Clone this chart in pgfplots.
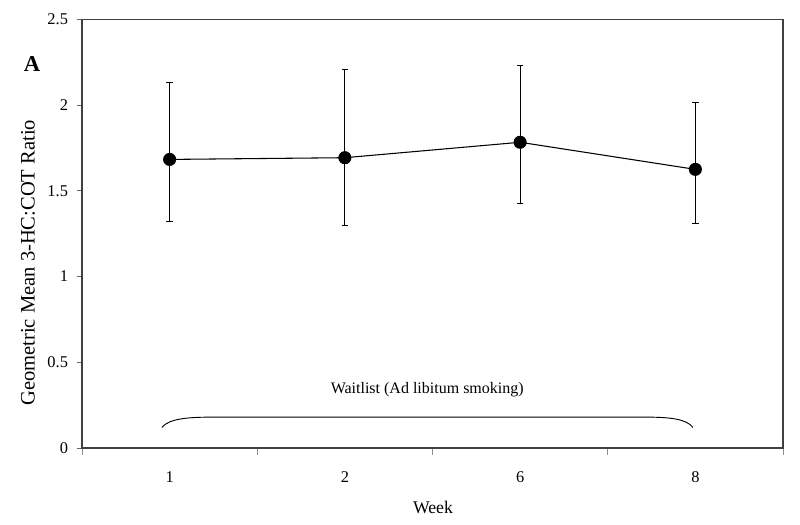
\documentclass[border=0pt]{standalone}
\usepackage{pgfplots}
\pgfplotsset{compat=1.18}
\usepackage{fontspec}
\setmainfont{Liberation Serif}
\begin{document}
\begin{tikzpicture}[x=1pt,y=1pt]
\path[use as bounding box] (-61.5pt,-57.75pt) rectangle (538.5pt,336pt);
\begin{axis}[
  at={(0,0)}, anchor=south west,
  scale only axis,
  width=525.75pt, height=321.5pt,
  xmin=-0.5, xmax=3.5, ymin=0, ymax=2.5,
  axis line style={draw=black!75, line width=0.8pt},
  xtick={0,1,2,3}, xticklabels={1,2,6,8},
  major x tick style={draw=none},
  minor xtick={-0.5,0.5,1.5,2.5,3.5},
  minor x tick style={draw=black!45, line width=0.6pt},
  minor tick length=5pt,
  ytick={0,0.5,1,1.5,2,2.5},
  yticklabels={0,0.5,1,1.5,2,2.5},
  major y tick style={draw=black!60, line width=0.6pt},
  major tick length=4pt,
  tick align=outside,
  xtick pos=bottom, ytick pos=left,
  /pgf/number format/assume math mode=true,
  ticklabel style={font=\fontsize{12.3}{14}\selectfont},
  xticklabel style={anchor=base, yshift=-22pt},
  yticklabel style={xshift=-3pt},
  xlabel={Week},
  every axis x label/.style={at={(rel axis cs:0.5007,0)}, anchor=center, yshift=-44.25pt, font=\fontsize{13.3}{15}\selectfont},
  ylabel={Geometric Mean 3-HC:COT Ratio},
  every axis y label/.style={at={(rel axis cs:0,0.432)}, anchor=center, rotate=90, yshift=40.5pt, font=\fontsize{15.4}{18}\selectfont},
  clip=false,
]
\addplot+[black, line width=0.8pt, mark=*, mark size=4.5pt,
  mark options={fill=black, draw=black},
  error bars/.cd, y dir=both, y explicit,
  error bar style={black, line width=0.7pt},
  error mark options={rotate=90, mark size=2.5pt, black, line width=0.7pt}]
  coordinates {
  (0,1.683) += (0,0.449) -= (0,0.361)
  (1,1.693) += (0,0.515) -= (0,0.394)
  (2,1.783) += (0,0.446) -= (0,0.358)
  (3,1.625) += (0,0.388) -= (0,0.317)
  };
\draw[black, line width=0.7pt] (axis cs:-0.045,0.12) .. controls (axis cs:0.0,0.175) and (axis cs:0.12,0.18) .. (axis cs:0.25,0.18) -- (axis cs:2.72,0.18) .. controls (axis cs:2.85,0.18) and (axis cs:2.95,0.17) .. (axis cs:2.986,0.12);
\node[font=\fontsize{12}{14}\selectfont] at (axis cs:1.47,0.338) {Waitlist (Ad libitum smoking)};
\end{axis}
\node[font=\bfseries\fontsize{17}{20}\selectfont] at (-37.5pt,288pt) {A};
\end{tikzpicture}
\end{document}
